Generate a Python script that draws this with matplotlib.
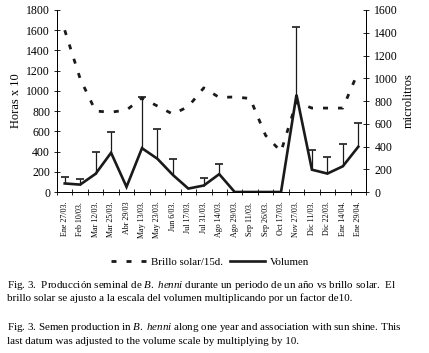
import numpy as np
import matplotlib
matplotlib.use("Agg")
import matplotlib.pyplot as plt

plt.rcParams['font.family'] = ['Liberation Serif', 'DejaVu Serif']
plt.rcParams['mathtext.fontset'] = 'custom'
plt.rcParams['mathtext.rm'] = 'Liberation Serif'
plt.rcParams['mathtext.it'] = 'Liberation Serif:italic'

## data
fechas = ['Ene 27/03.', 'Feb 10/03.', 'Mar 12/03.', 'Mar 25/03.', 'Abr 29/03',
          'May 13/03.', 'May 23/03.', 'Jun 6/03.', 'Jul 17/03.', 'Jul 31/03.',
          'Ago 14/03.', 'Ago 29/03.', 'Sep 11/03.', 'Sep 26/03.', 'Oct 17/03.',
          'Nov 27/03.', 'Dic 11/03.', 'Dic 22/03.', 'Ene 14/04.', 'Ene 29/04.']
brillo = [1600, 1120, 800, 790, 810, 930, 850, 770, 845, 1030,
          935, 940, 925, 560, 400, 890, 830, 830, 830, 1190]
volumen = [75, 65, 160, 345, 45, 385, 292, 150, 30, 57,
           157, 0, 0, 0, 0, 855, 196, 162, 226, 398]
err_sup = [60, 52, 196, 180, 0, 447, 266, 142, 0, 66,
           93, 0, 0, 0, 0, 598, 177, 150, 200, 206]

fig = plt.figure(figsize=(4.29, 3.53), dpi=100)
ax = fig.add_axes([57/429., 1-192/353., 309/429., 182/353.])
ax2 = ax.twinx()

x = np.arange(len(fechas))

# sun line on left axis
l1, = ax.plot(x, brillo, color='#1a1a1a', lw=2.0, dashes=(1.8, 3.6), solid_capstyle='butt')

# volume on right axis with upper error bars
l2, = ax2.plot(x, volumen, color='#1a1a1a', lw=1.9, solid_joinstyle='miter')
v = np.array(volumen, dtype=float)
e = np.array(err_sup, dtype=float)
m = e > 0
ax2.vlines(x[m], v[m], v[m] + e[m], color='#1a1a1a', lw=0.9)
ax2.plot(x[m], v[m] + e[m], ls='none', marker='_', ms=5.5, mew=1.2, color='#1a1a1a')

ax.set_xlim(-0.5, len(fechas) - 0.5)
ax.set_ylim(0, 1800)
ax2.set_ylim(0, 1600)
ax.set_yticks(np.arange(0, 1801, 200))
ax2.set_yticks(np.arange(0, 1601, 200))

ax.set_xticks(x)
ax.set_xticklabels(fechas, rotation=90, fontsize=5.8)
ax.set_xticks(np.arange(-0.5, len(fechas), 1), minor=True)
ax.tick_params(axis='x', which='major', length=0, pad=7)
ax.tick_params(axis='x', which='minor', direction='inout', length=4, width=0.6)
ax.tick_params(axis='y', direction='inout', length=4, width=0.6, labelsize=8.5, pad=3)
ax2.tick_params(axis='y', direction='inout', length=4, width=0.6, labelsize=8.5, pad=4)

for a in (ax, ax2):
  a.spines['top'].set_visible(False)
  for s in ('left', 'right', 'bottom'):
    a.spines[s].set_linewidth(0.7)

ax.set_ylabel('Horas x 10', fontsize=9, labelpad=3)
ax2.set_ylabel('microlitros', fontsize=9, labelpad=3)

fig.legend([l1, l2], ['Brillo solar/15d.', 'Volumen'], loc='center',
           bbox_to_anchor=(0.49, 1-262/353.), ncol=2, frameon=False,
           fontsize=7.8, handlelength=3.2, columnspacing=0.6, handletextpad=0.5)

cap = 7.9
fig.text(7/429., 1-285/353., r'Fig. 3.  Producción seminal de $\it{B.\ henni}$ durante un periodo de un año vs brillo solar.  El',
         fontsize=cap, va='center', ha='left')
fig.text(7/429., 1-298/353., 'brillo solar se ajusto a la escala del volumen multiplicando por un factor de10.',
         fontsize=cap, va='center', ha='left')
fig.text(7/429., 1-327/353., r'Fig. 3. Semen production in $\it{B.\ henni}$ along one year and association with sun shine. This',
         fontsize=cap, va='center', ha='left')
fig.text(7/429., 1-341/353., 'last datum was adjusted to the volume scale by multiplying by 10.',
         fontsize=cap, va='center', ha='left')

fig.savefig('out.png', dpi=100)
